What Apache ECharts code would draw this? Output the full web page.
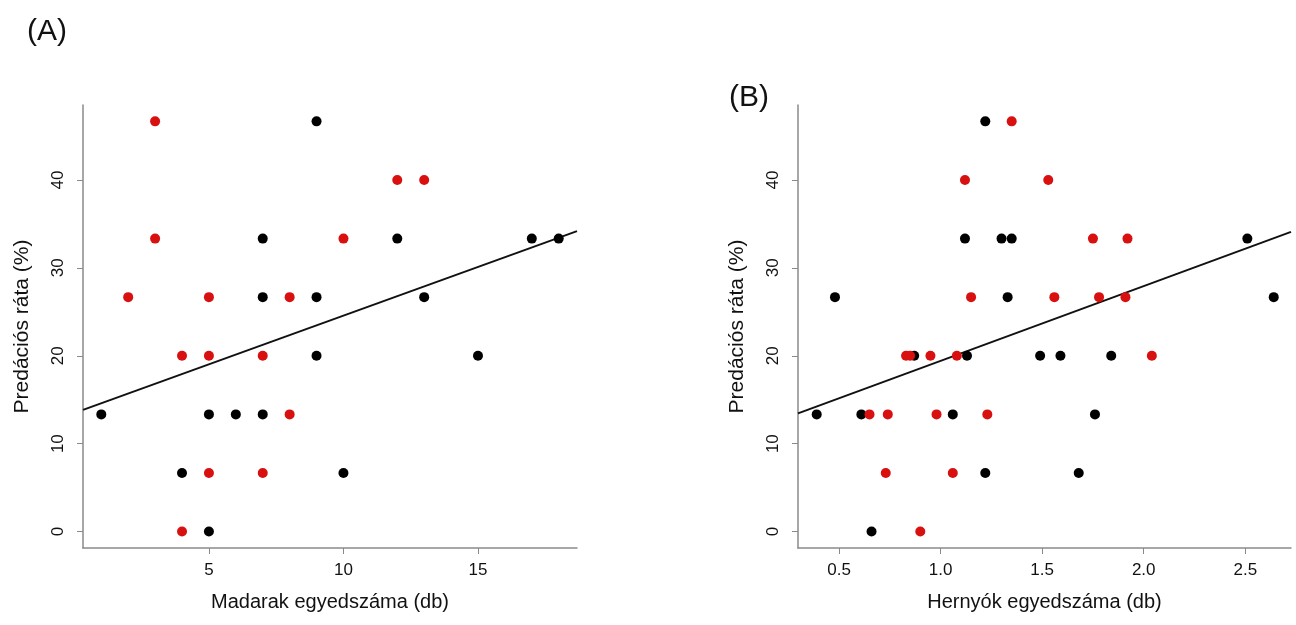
<!DOCTYPE html>
<html>
<head>
<meta charset="utf-8">
<script src="https://cdn.jsdelivr.net/npm/echarts@6/dist/echarts.min.js"></script>
<style>
  html, body { margin: 0; padding: 0; background: #fff; }
  #main { width: 1296px; height: 625px; }
</style>
</head>
<body>
<div id="main"></div>
<script type="text/javascript">
    // (A) madarak egyedszáma vs. predációs ráta
    var madarFekete = [
        [9, 46.67], [7, 33.33], [12, 33.33], [17, 33.33], [18, 33.33],
        [7, 26.67], [9, 26.67], [13, 26.67], [9, 20], [15, 20],
        [1, 13.33], [5, 13.33], [6, 13.33], [7, 13.33],
        [4, 6.67], [10, 6.67], [5, 0]
    ];
    var madarPiros = [
        [3, 46.67], [12, 40], [13, 40], [3, 33.33], [10, 33.33],
        [2, 26.67], [5, 26.67], [8, 26.67], [4, 20], [5, 20], [7, 20],
        [8, 13.33], [5, 6.67], [7, 6.67], [4, 0]
    ];
    // (B) hernyók egyedszáma vs. predációs ráta
    var hernyoFekete = [
        [1.22, 46.67], [1.12, 33.33], [1.30, 33.33], [1.35, 33.33], [2.51, 33.33],
        [0.48, 26.67], [1.33, 26.67], [2.64, 26.67],
        [0.87, 20], [1.13, 20], [1.49, 20], [1.59, 20], [1.84, 20],
        [0.39, 13.33], [0.61, 13.33], [1.06, 13.33], [1.76, 13.33],
        [1.22, 6.67], [1.68, 6.67], [0.66, 0]
    ];
    var hernyoPiros = [
        [1.35, 46.67], [1.12, 40], [1.53, 40], [1.75, 33.33], [1.92, 33.33],
        [1.15, 26.67], [1.56, 26.67], [1.78, 26.67], [1.91, 26.67],
        [0.83, 20], [0.85, 20], [0.95, 20], [1.08, 20], [2.04, 20],
        [0.65, 13.33], [0.74, 13.33], [0.98, 13.33], [1.23, 13.33],
        [0.73, 6.67], [1.06, 6.67], [0.90, 0]
    ];
    // regressziós egyenesek (metszet, meredekség)
    var illesztesA = [13.49, 1.108];
    var illesztesB = [10.91, 8.51];

    var yTicks = [0, 10, 20, 30, 40];
    var xTicksA = [5, 10, 15];
    var xTicksB = [0.5, 1.0, 1.5, 2.0, 2.5];
    var xRangeA = [0.32, 18.68];
    var xRangeB = [0.298, 2.725];
    var yRange = [-1.87, 48.53];

    function egyenes(fit, range) {
        return [[range[0], fit[0] + fit[1] * range[0]], [range[1], fit[0] + fit[1] * range[1]]];
    }

    var betu = 'Liberation Sans, Arial, sans-serif';
    var piros = '#d81010';

    function xTengely(idx, range, ticks, nev, fmt) {
        return {
            type: 'value', gridIndex: idx, min: range[0], max: range[1],
            name: nev, nameLocation: 'middle', nameGap: 44,
            nameTextStyle: { fontFamily: betu, fontSize: 20, color: '#111' },
            axisLine: { show: true, onZero: false, lineStyle: { color: '#8a8a8a', width: 1.5 } },
            axisTick: { show: true, length: 6, customValues: ticks, lineStyle: { color: '#8a8a8a' } },
            axisLabel: { customValues: ticks, margin: 14, fontFamily: betu, fontSize: 17, color: '#111', formatter: fmt },
            splitLine: { show: false }
        };
    }
    function yTengely(idx) {
        return {
            type: 'value', gridIndex: idx, min: yRange[0], max: yRange[1],
            name: 'Predációs ráta (%)', nameLocation: 'middle', nameGap: 50,
            nameTextStyle: { fontFamily: betu, fontSize: 21, color: '#111' },
            axisLine: { show: true, onZero: false, lineStyle: { color: '#8a8a8a', width: 1.5 } },
            axisTick: { show: true, length: 6, customValues: yTicks, lineStyle: { color: '#8a8a8a' } },
            axisLabel: { customValues: yTicks, rotate: 90, margin: 16, fontFamily: betu, fontSize: 17, color: '#111' },
            splitLine: { show: false }
        };
    }

    var myChart = echarts.init(document.getElementById('main'));
    var option = {
        animation: false,
        backgroundColor: '#fff',
        title: [
            { text: '(A)', left: 22, top: 12, textStyle: { fontFamily: betu, fontSize: 30, fontWeight: 'normal', color: '#111' } },
            { text: '(B)', left: 724, top: 78, textStyle: { fontFamily: betu, fontSize: 30, fontWeight: 'normal', color: '#111' } }
        ],
        grid: [
            { left: 83, top: 105, width: 494, height: 443 },
            { left: 798, top: 105, width: 493, height: 443 }
        ],
        xAxis: [
            xTengely(0, xRangeA, xTicksA, 'Madarak egyedszáma (db)', function (v) { return String(v); }),
            xTengely(1, xRangeB, xTicksB, 'Hernyók egyedszáma (db)', function (v) { return v.toFixed(1); })
        ],
        yAxis: [yTengely(0), yTengely(1)],
        series: [
            { type: 'line', xAxisIndex: 0, yAxisIndex: 0, data: egyenes(illesztesA, xRangeA), showSymbol: false, lineStyle: { color: '#111', width: 2 }, z: 1 },
            { type: 'scatter', xAxisIndex: 0, yAxisIndex: 0, data: madarFekete, symbolSize: 10, itemStyle: { color: '#000', opacity: 1 }, z: 2 },
            { type: 'scatter', xAxisIndex: 0, yAxisIndex: 0, data: madarPiros, symbolSize: 10, itemStyle: { color: piros, opacity: 1 }, z: 2 },
            { type: 'line', xAxisIndex: 1, yAxisIndex: 1, data: egyenes(illesztesB, xRangeB), showSymbol: false, lineStyle: { color: '#111', width: 2 }, z: 1 },
            { type: 'scatter', xAxisIndex: 1, yAxisIndex: 1, data: hernyoFekete, symbolSize: 10, itemStyle: { color: '#000', opacity: 1 }, z: 2 },
            { type: 'scatter', xAxisIndex: 1, yAxisIndex: 1, data: hernyoPiros, symbolSize: 10, itemStyle: { color: piros, opacity: 1 }, z: 2 }
        ]
    };
    myChart.setOption(option);
</script>
</body>
</html>
